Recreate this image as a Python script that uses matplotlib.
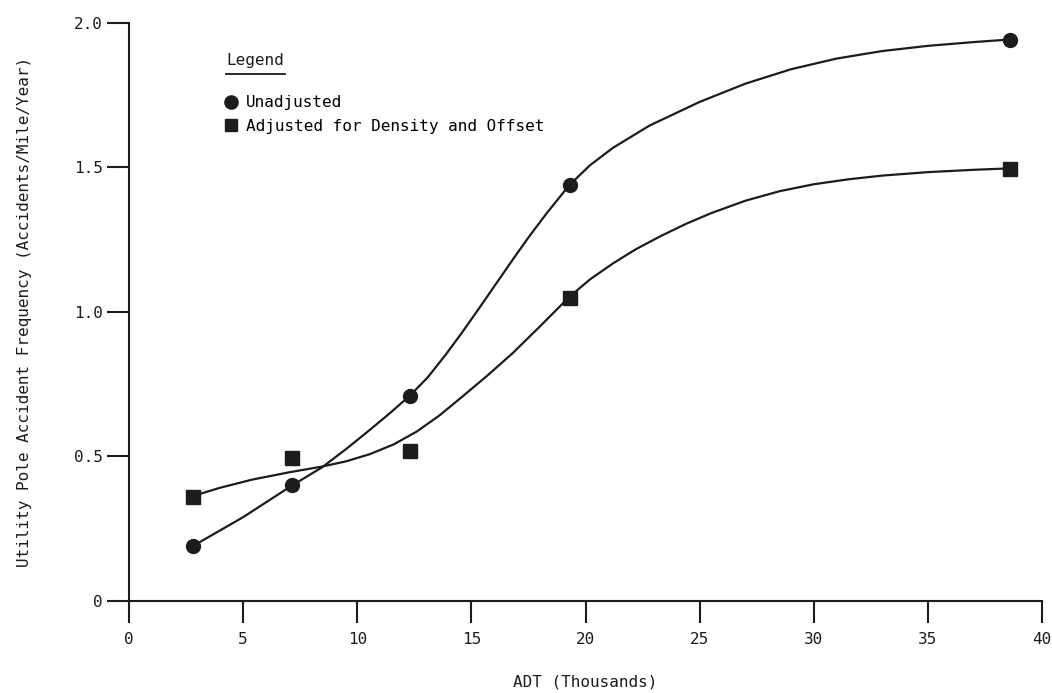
# Utility pole accident frequency vs ADT

import matplotlib
matplotlib.use("Agg")
import matplotlib.pyplot as plt
from matplotlib.lines import Line2D

plt.rcParams['font.family'] = ['DejaVu Sans Mono']

# observed points
adt = [2.8, 7.15, 12.3, 19.3, 38.6]
unadjusted = [0.19, 0.40, 0.71, 1.44, 1.94]
adjusted = [0.36, 0.495, 0.52, 1.05, 1.495]

# hand-drawn fitted curves
unadj_curve_x = [2.8, 5.0, 7.15, 8.45, 9.5, 10.55, 11.4, 12.3, 13.1, 13.9, 14.6,
                 15.4, 16.1, 16.8, 17.5, 18.3, 19.3, 20.2, 21.2, 22.8, 25.0,
                 27.0, 29.0, 31.0, 33.0, 35.0, 37.0, 38.6]
unadj_curve_y = [0.19, 0.29, 0.40, 0.462, 0.525, 0.592, 0.648, 0.71, 0.775, 0.855, 0.93,
                 1.02, 1.10, 1.18, 1.258, 1.342, 1.44, 1.508, 1.568, 1.645, 1.727,
                 1.79, 1.84, 1.877, 1.903, 1.921, 1.934, 1.943]

adj_curve_x = [2.8, 4.0, 5.4, 7.0, 8.45, 9.5, 10.55, 11.6, 12.6, 13.6, 14.6, 15.7,
               16.8, 18.0, 19.3, 20.2, 21.2, 22.2, 23.3, 24.4, 25.5, 27.0, 28.5,
               30.0, 31.5, 33.0, 35.0, 37.0, 38.6]
adj_curve_y = [0.363, 0.392, 0.42, 0.445, 0.465, 0.483, 0.508, 0.542, 0.586, 0.642,
               0.707, 0.78, 0.857, 0.95, 1.053, 1.113, 1.168, 1.217, 1.263, 1.305,
               1.342, 1.385, 1.418, 1.442, 1.459, 1.472, 1.484, 1.492, 1.497]

xticks = [0, 5, 10, 15, 20, 25, 30, 35, 40]
yticks = [0, 0.5, 1.0, 1.5, 2.0]
ytick_labels = ['0', '0.5', '1.0', '1.5', '2.0']

ink = '#1c1c1c'

fig = plt.figure(figsize=(10.52, 6.93), dpi=100)
ax = fig.add_axes([0.1226, 0.1328, 0.868, 0.834])

ax.plot(unadj_curve_x, unadj_curve_y, color=ink, lw=1.6, solid_capstyle='round',
        solid_joinstyle='round')
ax.plot(adj_curve_x, adj_curve_y, color=ink, lw=1.6, solid_capstyle='round',
        solid_joinstyle='round')
ax.plot(adt, unadjusted, 'o', color=ink, ms=10, clip_on=False)
ax.plot(adt, adjusted, 's', color=ink, ms=9.5, clip_on=False)

ax.set_xlim(0, 40)
ax.set_ylim(0, 2.0)
ax.set_xticks(xticks)
ax.set_yticks(yticks)
ax.set_yticklabels(ytick_labels)
ax.spines['top'].set_visible(False)
ax.spines['right'].set_visible(False)
ax.spines['left'].set_linewidth(1.5)
ax.spines['bottom'].set_linewidth(1.5)
ax.spines['left'].set_color(ink)
ax.spines['bottom'].set_color(ink)
ax.tick_params(axis='both', direction='out', length=16, width=1.5, color=ink,
               labelsize=11.5, labelcolor=ink)
ax.tick_params(axis='x', pad=6)
ax.tick_params(axis='y', pad=3)

ax.set_xlabel('ADT (Thousands)', fontsize=11.5, color=ink, labelpad=20)
ax.set_ylabel('Utility Pole Accident Frequency (Accidents/Mile/Year)',
              fontsize=11.5, color=ink, labelpad=30)

# legend block
ax.text(0.1065, 0.935, 'Legend', transform=ax.transAxes, fontsize=11.5,
        color=ink, va='center', ha='left')
ax.plot([0.1065, 0.171], [0.912, 0.912], transform=ax.transAxes, color=ink,
        lw=1.3, clip_on=False)

handles = [Line2D([], [], marker='o', ls='none', color=ink, ms=9.5),
           Line2D([], [], marker='s', ls='none', color=ink, ms=9)]
ax.legend(handles, ['Unadjusted', 'Adjusted for Density and Offset'],
          loc='upper left', bbox_to_anchor=(0.103, 0.875), frameon=False,
          fontsize=11.5, handlelength=1.0, handletextpad=0.45, labelspacing=0.55,
          borderaxespad=0, borderpad=0)

fig.savefig('out.png', dpi=100)
